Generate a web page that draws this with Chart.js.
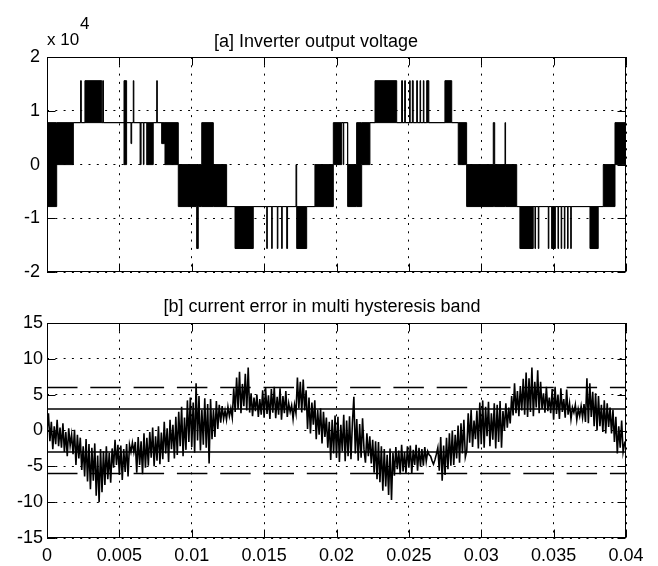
<!DOCTYPE html>
<html>
<head>
<meta charset="utf-8">
<title>Inverter output voltage / current error</title>
<script src="https://cdn.jsdelivr.net/npm/chart.js@4.4.1/dist/chart.umd.min.js"></script>
<style>
  html, body { margin: 0; padding: 0; background: #fff; }
  #wrap { position: relative; width: 658px; height: 566px; }
  canvas { position: absolute; left: 0; }
</style>
</head>
<body>
<div id="wrap">
  <canvas id="voltChart" width="658" height="290" style="top:0"></canvas>
  <canvas id="errorChart" width="658" height="276" style="top:290px"></canvas>
</div>
<script>
// Tick labels
const timeTicks = [0, 0.005, 0.01, 0.015, 0.02, 0.025, 0.03, 0.035, 0.04];
const voltTicks = [-20000, -10000, 0, 10000, 20000];
const errorTicks = [-15, -10, -5, 0, 5, 10, 15];

// [a] inverter output voltage: each entry holds from its time until the next one.
// Where the inverter switches fast between two levels the plot is a black band,
// so the signal is kept as a lower and an upper level.
const voltTime = [
  0, 0.00067, 0.00182, 0.00232, 0.00237, 0.00262, 0.00378, 0.00385, 0.0039, 0.00532,
  0.0055, 0.0058, 0.00585, 0.00596, 0.006, 0.00643, 0.0065, 0.00666, 0.0067, 0.00689,
  0.00734, 0.00758, 0.00762, 0.00792, 0.00815, 0.00907, 0.01034, 0.01045, 0.01069, 0.01149,
  0.01241, 0.01299, 0.01425, 0.01518, 0.01522, 0.01552, 0.01556, 0.01591, 0.01595, 0.01621,
  0.01625, 0.01656, 0.01662, 0.0172, 0.01725, 0.01794, 0.01851, 0.01978, 0.02036, 0.02047,
  0.0205, 0.02077, 0.02139, 0.02174, 0.02231, 0.02266, 0.02416, 0.0245, 0.02456, 0.02471,
  0.02476, 0.02505, 0.02509, 0.02524, 0.0253, 0.02554, 0.02559, 0.02577, 0.02581, 0.026,
  0.02604, 0.02623, 0.02638, 0.02749, 0.02796, 0.02841, 0.02899, 0.03083, 0.03093, 0.03164,
  0.03168, 0.03245, 0.03267, 0.03359, 0.03371, 0.03375, 0.03394, 0.03398, 0.03463, 0.03467,
  0.03486, 0.03512, 0.0353, 0.03534, 0.03552, 0.03556, 0.03574, 0.03578, 0.03596, 0.036,
  0.03618, 0.03622, 0.03751, 0.03808, 0.03843, 0.03924, 0.04
];
const voltLow = [
  -7800, 0, 7800, 7800, 7800, 7800, 7800, 7800, 7800, 0,
  7800, 3900, 7800, 7800, 7800, 0, 7800, 0, 7800, 0,
  7800, 7800, 7800, 3900, 0, -7800, -15600, -7800, -7800, -7800,
  -7800, -15600, -7800, -15600, -7800, -15600, -7800, -15600, -7800, -15600,
  -7800, -15600, -7800, -7800, -15600, -7800, -7800, 0, 7800, 0,
  7800, -7800, -7800, 0, 7800, 7800, 7800, 7800, 7800, 7800,
  7800, 7800, 7800, 7800, 7800, 7800, 7800, 7800, 7800, 7800,
  7800, 7800, 7800, 7800, 7800, 0, -7800, -7800, -7800, -7800,
  -7800, -7800, -15600, -7800, -15600, -7800, -15600, -7800, -15600, -7800,
  -15600, -7800, -15600, -7800, -15600, -7800, -15600, -7800, -15600, -7800,
  -15600, -7800, -15600, -7800, -7800, 0, 0
];
const voltHigh = [
  7800, 7800, 7800, 15600, 7800, 15600, 7800, 15600, 7800, 15600,
  7800, 7800, 7800, 15600, 7800, 7800, 7800, 7800, 7800, 7800,
  7800, 15600, 7800, 7800, 7800, 0, 0, 0, 7800, 0,
  -7800, -7800, -7800, -7800, -7800, -7800, -7800, -7800, -7800, -7800,
  -7800, -7800, -7800, 0, -7800, -7800, 0, 7800, 7800, 7800,
  7800, 0, 7800, 7800, 7800, 15600, 7800, 15600, 7800, 15600,
  7800, 15600, 7800, 15600, 7800, 15600, 7800, 15600, 7800, 15600,
  7800, 15600, 7800, 15600, 7800, 7800, 0, 7800, 0, 7800,
  0, -7800, -7800, -7800, -7800, -7800, -7800, -7800, -7800, -7800,
  -7800, -7800, -7800, -7800, -7800, -7800, -7800, -7800, -7800, -7800,
  -7800, -7800, -7800, -7800, 0, 7800, 7800
];

// [b] current error, sampled every 0.1 ms
const errorStep = 0.0001;
const errorValues = [
  0, 2.4, -1.5, 1.2, -2.6, 0.6, -1.9, 1.5, -2.2, 0.4,
  -2.4, 1.0, -3.0, -0.2, -3.6, 0.3, -2.1, -0.6, -3.3, 0.1,
  -4.8, -0.6, -3.9, -1.0, -5.5, -2.2, -6.4, -1.2, -7.1, -1.9,
  -8.2, -2.4, -7.0, -1.8, -9.1, -3.5, -10.0, -2.6, -8.6, -2.9,
  -7.6, -2.2, -6.8, -3.1, -7.3, -2.5, -5.2, -1.3, -4.8, -2.0,
  -6.2, -2.1, -6.9, -2.6, -5.8, -1.9, -6.4, -2.0, -3.0, -1.7,
  -3.0, -1.6, -5.9, -0.9, -4.8, -1.5, -6.1, -0.4, -5.2, -1.0,
  -4.9, -0.2, -3.8, 0.4, -5.0, -0.8, -4.2, 0.6, -4.7, -0.3,
  -4.0, 1.2, -3.2, 0.3, -4.4, 1.5, -2.6, 0.8, -3.9, 1.9,
  -3.4, 2.6, -2.2, 3.3, -3.6, 1.8, -2.7, 4.2, -1.6, 4.6,
  -2.3, 3.9, -3.1, 6.6, -1.4, 4.8, -2.8, 2.9, -2.0, 4.5,
  -2.4, 3.7, -4.6, 4.4, -1.2, 2.9, -0.9, 4.1, 0.2, 3.6,
  1.1, 3.4, 1.6, 2.8, 1.5, 3.3, 2.0, 3.1, 1.8, 5.9,
  2.6, 7.4, 3.0, 8.2, 2.4, 6.5, 3.4, 7.9, 2.8, 8.8,
  2.5, 5.2, 2.0, 4.6, 2.7, 5.0, 1.9, 4.4, 2.2, 5.6,
  1.8, 6.0, 2.3, 4.9, 1.6, 5.8, 2.5, 6.1, 1.7, 4.7,
  2.2, 5.9, 1.5, 4.8, 2.4, 5.5, 1.9, 3.8, 2.6, 3.5,
  1.6, 3.6, 2.4, 7.4, 3.1, 6.8, 2.5, 7.1, 2.8, 5.6,
  0.2, 4.6, -0.4, 3.9, 0.8, 4.2, -1.2, 2.9, -0.6, 3.1,
  -1.8, 2.6, -0.9, 1.8, -2.4, 1.2, -4.1, 1.5, -3.2, 2.1,
  -3.8, 1.9, -4.4, 0.8, -2.9, 2.2, -4.3, 1.4, -3.6, 2.0,
  -4.0, 1.1, 4.7, -3.2, 1.6, -4.2, 0.9, -3.8, 1.7, -2.6,
  -4.5, -0.4, -3.6, -0.8, -4.6, -1.3, -5.9, -1.5, -6.8, -1.6,
  -7.2, -2.2, -8.4, -2.6, -7.8, -3.4, -9.0, -2.5, -9.7, -3.1,
  -6.3, -2.3, -5.4, -2.8, -6.1, -2.0, -5.7, -3.0, -6.0, -2.2,
  -5.2, -2.1, -6.0, -2.7, -4.8, -2.0, -5.6, -2.4, -5.0, -2.6,
  -4.9, -2.3, -4.3, -2.9, -3.4, -3.6, -4.2, -4.7, -4.1, -3.3,
  -2.4, -5.6, -0.9, -7.0, -2.1, -6.2, -1.0, -5.4, -0.4, -4.9,
  0.0, -4.8, -0.6, -3.9, 0.7, -4.5, 1.0, -3.2, 1.5, -3.7,
  -2.8, 2.4, -1.7, 2.9, -2.3, 1.4, -1.2, 2.8, -2.5, 3.9,
  -1.9, 4.2, -2.4, 3.3, -0.8, 4.0, -2.2, 2.4, -1.3, 3.8,
  -2.5, 3.6, -1.6, 4.1, -2.4, 2.7, 0.0, 3.8, 0.4, 3.2,
  1.0, 4.8, 2.1, 6.6, 2.4, 5.5, 2.0, 6.2, 2.8, 7.2,
  2.2, 8.1, 1.9, 7.3, 2.6, 8.8, 2.0, 6.8, 3.2, 8.4,
  2.4, 6.8, 3.0, 5.2, 2.5, 6.1, 2.7, 4.6, 2.4, 5.8,
  1.5, 6.1, 2.3, 5.0, 1.6, 5.9, 2.6, 4.4, 1.8, 5.7,
  2.2, 3.8, 1.6, 3.2, 2.5, 3.6, 1.5, 3.0, 2.0, 3.4,
  1.8, 3.7, 1.2, 7.3, 1.0, 6.6, 1.9, 5.4, 0.6, 5.2,
  0.0, 4.8, 0.6, 3.6, -0.2, 4.2, -0.4, 3.8, 0.5, 3.2,
  -0.4, 2.9, -1.6, 1.9, -3.2, 0.6, -2.4, 1.4, -3.0, -1.8,
  -2.2
];

// Hysteresis band limits (solid inner, dashed outer)
const innerBand = 3;
const outerBand = 6;

const FONT = "'Liberation Sans', Arial, sans-serif";
Chart.defaults.font.family = FONT;
Chart.defaults.font.size = 18;
Chart.defaults.color = '#000';

// Box, inside tick marks and titles in the MATLAB look
const matlabAxes = {
  id: 'matlabAxes',
  afterDraw(chart, args, opts) {
    const { ctx, chartArea: a, scales } = chart;
    const len = opts.tickLength;
    const l = Math.round(a.left) + 0.5, r = Math.round(a.right) - 0.5;
    const t = Math.round(a.top) + 0.5, b = Math.round(a.bottom) - 0.5;
    ctx.save();
    ctx.strokeStyle = '#000';
    ctx.lineWidth = 1;
    ctx.beginPath();
    scales.x.ticks.forEach(tk => {
      const px = Math.round(scales.x.getPixelForValue(tk.value)) + 0.5;
      ctx.moveTo(px, t); ctx.lineTo(px, t + len);
      ctx.moveTo(px, b); ctx.lineTo(px, b - len);
    });
    scales.y.ticks.forEach(tk => {
      const py = Math.round(scales.y.getPixelForValue(tk.value)) + 0.5;
      ctx.moveTo(l, py); ctx.lineTo(l + len, py);
      ctx.moveTo(r, py); ctx.lineTo(r - len, py);
    });
    ctx.stroke();
    ctx.strokeRect(l, t, r - l, b - t);

    ctx.fillStyle = '#000';
    ctx.textBaseline = 'alphabetic';
    ctx.textAlign = 'center';
    ctx.font = '18px ' + FONT;
    ctx.fillText(opts.title, opts.titleX, opts.titleY);
    if (opts.exponent) {
      ctx.textAlign = 'left';
      ctx.font = '17px ' + FONT;
      ctx.fillText('x 10', a.left, opts.titleY - 2);
      ctx.fillText(opts.exponent, a.left + 33, opts.titleY - 18);
    }
    ctx.restore();
  }
};

function formatTime(v) {
  return String(Number(v.toFixed(3)));
}

function fixedTicks(list) {
  return scale => { scale.ticks = list.map(v => ({ value: v })); };
}

// Shared axis styling: dotted grid, no outside ticks
function axisStyle(extra) {
  return Object.assign({
    type: 'linear',
    grid: { color: '#000', lineWidth: 1, drawTicks: false },
    border: { display: false, dash: [2, 6.3] }
  }, extra);
}

function createVoltChart() {
  const low = voltTime.map((t, i) => ({ x: t, y: voltLow[i] }));
  const high = voltTime.map((t, i) => ({ x: t, y: voltHigh[i] }));
  const line = { stepped: true, borderColor: '#000', borderWidth: 1, pointRadius: 0 };

  return new Chart(document.getElementById('voltChart'), {
    type: 'line',
    data: {
      datasets: [
        { ...line, data: low, fill: false },
        { ...line, data: high, fill: '-1', backgroundColor: '#000' }
      ]
    },
    options: {
      responsive: false,
      animation: false,
      events: [],
      layout: { padding: { top: 57, right: 32, bottom: 16, left: 0 } },
      plugins: {
        legend: { display: false },
        tooltip: { enabled: false },
        matlabAxes: { title: '[a] Inverter output voltage', titleX: 316, titleY: 47, exponent: '4', tickLength: 8 }
      },
      scales: {
        x: axisStyle({
          min: 0, max: 0.04,
          ticks: { display: false },
          afterBuildTicks: fixedTicks(timeTicks),
          afterFit: s => { s.height = 0; }
        }),
        y: axisStyle({
          min: -20000, max: 20000,
          ticks: { padding: 7, callback: v => String(v / 10000) },
          afterBuildTicks: fixedTicks(voltTicks),
          afterFit: s => { s.width = 47; }
        })
      }
    },
    plugins: [matlabAxes]
  });
}

function createErrorChart() {
  const error = errorValues.map((v, i) => ({ x: i * errorStep, y: v }));
  const level = y => [{ x: 0, y: y }, { x: 0.04, y: y }];
  const line = { borderColor: '#000', borderWidth: 1.5, pointRadius: 0, fill: false };

  return new Chart(document.getElementById('errorChart'), {
    type: 'line',
    data: {
      datasets: [
        { ...line, data: error, borderWidth: 1.6 },
        { ...line, data: level(innerBand) },
        { ...line, data: level(-innerBand) },
        { ...line, data: level(outerBand), borderDash: [30.5, 12.8] },
        { ...line, data: level(-outerBand), borderDash: [30.5, 12.8] }
      ]
    },
    options: {
      responsive: false,
      animation: false,
      events: [],
      layout: { padding: { top: 33, right: 32, bottom: 0, left: 0 } },
      plugins: {
        legend: { display: false },
        tooltip: { enabled: false },
        matlabAxes: { title: '[b] current error in multi hysteresis band', titleX: 322, titleY: 22, tickLength: 8 }
      },
      scales: {
        x: axisStyle({
          min: 0, max: 0.04,
          ticks: { padding: 7, maxRotation: 0, autoSkip: false, callback: v => formatTime(v) },
          afterBuildTicks: fixedTicks(timeTicks),
          afterFit: s => { s.height = 28; }
        }),
        y: axisStyle({
          min: -15, max: 15,
          ticks: { padding: 4 },
          afterBuildTicks: fixedTicks(errorTicks),
          afterFit: s => { s.width = 47; }
        })
      }
    },
    plugins: [matlabAxes]
  });
}

createVoltChart();
createErrorChart();
</script>
</body>
</html>
